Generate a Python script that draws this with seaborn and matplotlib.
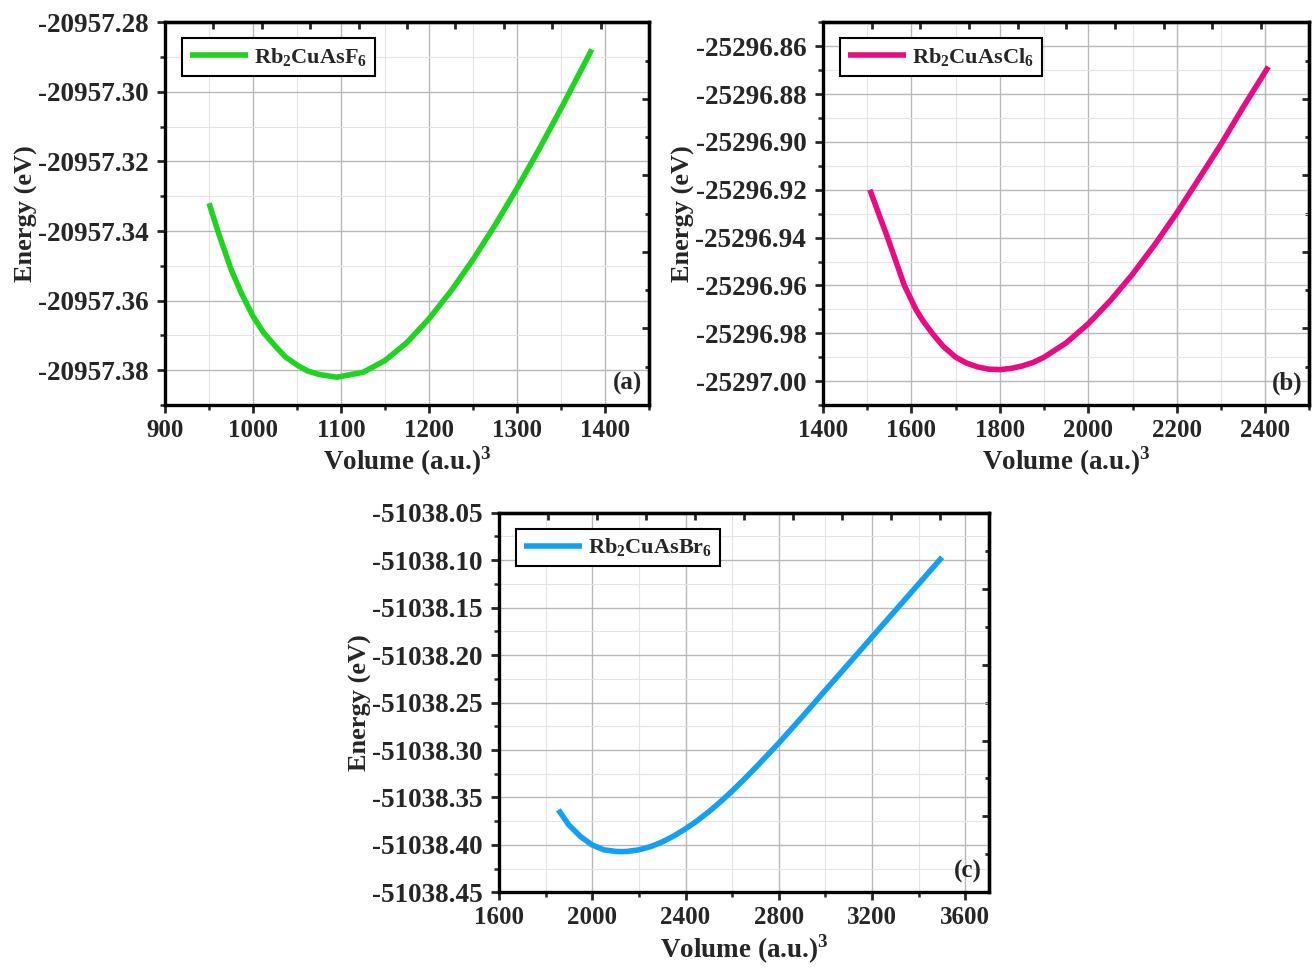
import matplotlib
matplotlib.use("Agg")
import matplotlib.pyplot as plt
import seaborn as sns
from matplotlib.ticker import MultipleLocator, FormatStrFormatter

# Rb2CuAsF6
vol_f = [950, 960, 975, 987, 1000, 1012, 1025, 1037, 1050, 1062, 1075, 1095,
         1125, 1150, 1175, 1200, 1225, 1250, 1275, 1300, 1325, 1350, 1385]
en_f = [-20957.3320, -20957.3400, -20957.3510, -20957.3580, -20957.3645, -20957.3692,
        -20957.3730, -20957.3762, -20957.3785, -20957.3802, -20957.3812, -20957.3820,
        -20957.3806, -20957.3772, -20957.3720, -20957.3652, -20957.3572, -20957.3482,
        -20957.3383, -20957.3277, -20957.3165, -20957.3048, -20957.2878]

# Rb2CuAsCl6
vol_cl = [1506, 1526, 1546, 1565, 1584, 1610, 1625, 1647, 1672, 1700, 1725, 1750,
          1775, 1800, 1825, 1850, 1875, 1900, 1950, 2000, 2050, 2100, 2150, 2200,
          2250, 2300, 2350, 2407]
en_cl = [-25296.920, -25296.930, -25296.940, -25296.950, -25296.960, -25296.970,
         -25296.9745, -25296.980, -25296.9855, -25296.990, -25296.9925, -25296.9941,
         -25296.9950, -25296.9952, -25296.9947, -25296.9937, -25296.9922, -25296.9900,
         -25296.9840, -25296.9760, -25296.9663, -25296.9553, -25296.9430, -25296.9297,
         -25296.9154, -25296.9010, -25296.8855, -25296.8686]

# Rb2CuAsBr6
vol_br = [1855, 1900, 1950, 2000, 2050, 2100, 2125, 2150, 2200, 2250, 2300,
          2350, 2400, 2450, 2500, 2550, 2600, 2650, 2700, 2800, 2900, 3000,
          3100, 3200, 3300, 3400, 3500]
en_br = [-51038.3630, -51038.3790, -51038.3912, -51038.4000, -51038.4051, -51038.4068,
         -51038.4070, -51038.4068, -51038.4051, -51038.4018, -51038.3968, -51038.3905,
         -51038.3830, -51038.3745, -51038.3650, -51038.3545, -51038.3432, -51038.3312,
         -51038.3187, -51038.2927, -51038.2652, -51038.2370, -51038.2090, -51038.1810,
         -51038.1530, -51038.1250, -51038.0970]

sns.set_theme(style="ticks")
plt.rcParams['font.family'] = ['Liberation Serif', 'DejaVu Serif']
plt.rcParams['font.weight'] = 'bold'
plt.rcParams['axes.labelweight'] = 'bold'
plt.rcParams['mathtext.fontset'] = 'custom'
plt.rcParams['mathtext.rm'] = 'Liberation Serif:bold'
plt.rcParams['mathtext.bf'] = 'Liberation Serif:bold'

fig = plt.figure(figsize=(13.13, 9.69), dpi=100)

panels = [
    dict(pos=[0.1257, 0.582, 0.3686, 0.395], x=vol_f, y=en_f, color='#1ed41e',
         label=r'$\mathbf{Rb_2CuAsF_6}$', xlim=(900, 1450), ylim=(-20957.39, -20957.28),
         xmaj=100, xmin=50, ymaj=0.02, ymin=0.01, tag='(a)'),
    dict(pos=[0.6268, 0.582, 0.3705, 0.395], x=vol_cl, y=en_cl, color='#ea0a84',
         label=r'$\mathbf{Rb_2CuAsCl_6}$', xlim=(1400, 2500), ylim=(-25297.01, -25296.85),
         xmaj=200, xmin=100, ymaj=0.02, ymin=0.01, tag='(b)'),
    dict(pos=[0.380, 0.079, 0.373, 0.392], x=vol_br, y=en_br, color='#14a0f2',
         label=r'$\mathbf{Rb_2CuAsBr_6}$', xlim=(1600, 3700), ylim=(-51038.45, -51038.05),
         xmaj=400, xmin=200, ymaj=0.05, ymin=0.025, tag='(c)'),
]


def frac_funcs(lo, hi):
    return (lambda v: (v - lo) / (hi - lo), lambda f: lo + f * (hi - lo))


for p in panels:
    ax = fig.add_axes(p['pos'])
    sns.lineplot(x=p['x'], y=p['y'], ax=ax, color=p['color'], lw=4,
                 label=p['label'], sort=False, solid_joinstyle='round',
                 solid_capstyle='butt')
    ax.set_xlim(*p['xlim'])
    ax.set_ylim(*p['ylim'])
    ax.xaxis.set_major_locator(MultipleLocator(p['xmaj']))
    ax.xaxis.set_minor_locator(MultipleLocator(p['xmin']))
    ax.yaxis.set_major_locator(MultipleLocator(p['ymaj']))
    ax.yaxis.set_minor_locator(MultipleLocator(p['ymin']))
    ax.yaxis.set_major_formatter(FormatStrFormatter('%.2f'))
    ax.xaxis.set_major_formatter(FormatStrFormatter('%d'))
    ax.grid(which='major', color='#b8b8b8', lw=1.0)
    ax.grid(which='minor', color='#e4e4e4', lw=0.8)
    ax.set_axisbelow(True)
    for s in ax.spines.values():
        s.set_linewidth(2.4)
        s.set_color('black')
    ax.tick_params(which='major', direction='out', length=6, width=2,
                   top=False, right=False)
    ax.tick_params(which='minor', direction='out', length=3.5, width=1.8,
                   top=False, right=False)
    ax.tick_params(axis='y', which='major', labelsize=19.5, pad=6)
    ax.tick_params(axis='x', which='major', labelsize=18, pad=4)
    for lab in ax.get_xticklabels() + ax.get_yticklabels():
        lab.set_fontweight('bold')

    # inward ticks on the opposite axes
    sy = ax.secondary_yaxis('right', functions=frac_funcs(*p['ylim']))
    sy.yaxis.set_major_locator(MultipleLocator(0.2))
    sy.yaxis.set_minor_locator(MultipleLocator(0.1))
    sy.tick_params(which='major', direction='in', length=5, width=2, labelright=False)
    sy.tick_params(which='minor', direction='in', length=3, width=2)
    sy.spines['right'].set_linewidth(2.4)
    sx = ax.secondary_xaxis('top', functions=frac_funcs(*p['xlim']))
    sx.xaxis.set_major_locator(MultipleLocator(0.1))
    sx.tick_params(which='major', direction='in', length=5, width=2, labeltop=False)
    sx.spines['top'].set_linewidth(2.4)

    ax.set_xlabel(r'Volume (a.u.)$^\mathbf{3}$', fontsize=19.5, fontweight='bold', labelpad=2)
    ax.set_ylabel('Energy (eV)', fontsize=19, fontweight='bold', labelpad=0)
    leg = ax.legend(loc='upper left', bbox_to_anchor=(0.035, 0.958), borderaxespad=0,
                    fontsize=16, frameon=True, fancybox=False, handlelength=2.6,
                    borderpad=0.35, handletextpad=0.3)
    leg.get_frame().set_edgecolor('black')
    leg.get_frame().set_linewidth(1.5)
    leg.get_frame().set_alpha(1)
    ax.text(0.985, 0.025, p['tag'], transform=ax.transAxes, ha='right', va='bottom',
            fontsize=18, fontweight='bold')

fig.savefig('out.png', dpi=100)
